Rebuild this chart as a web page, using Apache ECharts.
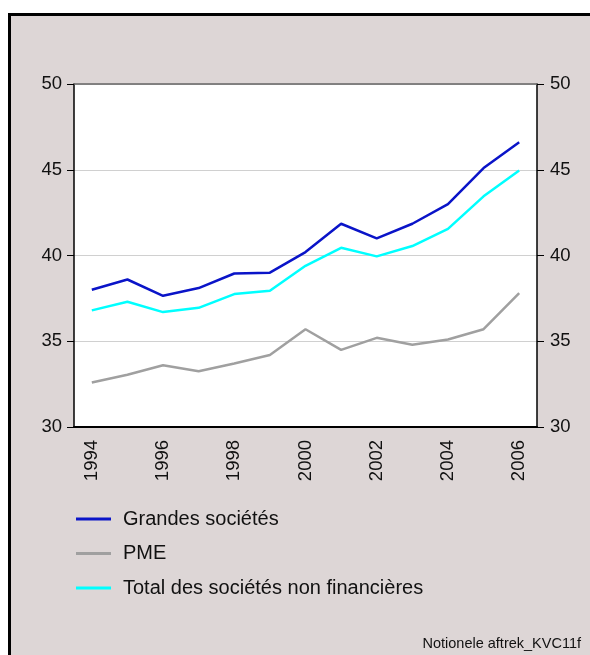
<!DOCTYPE html>
<html><head><meta charset="utf-8">
<script src="https://cdn.jsdelivr.net/npm/echarts@6/dist/echarts.min.js"></script>
<style>html,body{margin:0;padding:0;background:#fff}#c{width:590px;height:655px}</style>
</head><body><div id="c"></div>
<script>
const years = ['1994','1995','1996','1997','1998','1999','2000','2001','2002','2003','2004','2005','2006'];
const grandes = [38.0, 38.6, 37.65, 38.1, 38.95, 39.0, 40.2, 41.85, 41.0, 41.85, 43.0, 45.1, 46.6];
const pme = [32.6, 33.05, 33.6, 33.25, 33.7, 34.2, 35.7, 34.5, 35.2, 34.8, 35.1, 35.7, 37.8];
const total = [36.8, 37.3, 36.7, 36.95, 37.75, 37.95, 39.4, 40.45, 39.95, 40.55, 41.55, 43.45, 44.95];
const yTicks = {min: 30, max: 50, interval: 5};
const names = ['Grandes sociétés', 'PME', 'Total des sociétés non financières'];
const colors = ['#0a14c8', '#a0a0a0', '#00ffff'];
const font = 'Liberation Sans, Arial, sans-serif';

const chart = echarts.init(document.getElementById('c'), null, {renderer: 'canvas'});
chart.setOption({
  backgroundColor: '#ffffff',
  animation: false,
  textStyle: {fontFamily: font},
  graphic: [
    {type: 'rect', z: -10, shape: {x: 9.5, y: 14.5, width: 600, height: 660},
     style: {fill: '#ddd6d6', stroke: '#000', lineWidth: 3}},
    {type: 'text', right: 9, bottom: 4,
     style: {text: 'Notionele aftrek_KVC11f', font: '14.5px ' + font, fill: '#111'}}
  ],
  grid: {left: 74, right: 53, top: 84, bottom: 228, backgroundColor: '#fff', show: true, borderWidth: 0},
  legend: {
    orient: 'vertical', left: 76, top: 509, itemGap: 14.5, padding: 0,
    itemWidth: 35, itemHeight: 3, icon: 'rect',
    textStyle: {fontSize: 20, color: '#111', fontFamily: font, padding: [0, 0, 0, 7]},
    data: names
  },
  xAxis: [{
    type: 'category', data: years, boundaryGap: true,
    axisLine: {lineStyle: {color: '#000', width: 2}},
    axisTick: {inside: true, length: 6, interval: 0, lineStyle: {color: '#000', width: 1}},
    axisLabel: {interval: 1, rotate: 90, fontSize: 18.5, color: '#111', margin: 13, fontFamily: font},
    splitLine: {show: false}
  }, {
    type: 'category', data: years, position: 'top',
    axisLine: {lineStyle: {color: '#666', width: 1.5}},
    axisTick: {show: false}, axisLabel: {show: false}
  }],
  yAxis: [{
    type: 'value', position: 'left', min: yTicks.min, max: yTicks.max, interval: yTicks.interval,
    axisLine: {show: true, lineStyle: {color: '#000', width: 1.5}},
    axisTick: {show: true, length: 7, lineStyle: {color: '#000'}},
    axisLabel: {fontSize: 18.5, color: '#111', margin: 12, fontFamily: font},
    splitLine: {show: true, lineStyle: {color: '#d0d0d0', width: 1}}
  }, {
    type: 'value', position: 'right', min: yTicks.min, max: yTicks.max, interval: yTicks.interval,
    axisLine: {show: true, lineStyle: {color: '#000', width: 1.5}},
    axisTick: {show: true, length: 7, lineStyle: {color: '#000'}},
    axisLabel: {fontSize: 18.5, color: '#111', margin: 13, fontFamily: font},
    splitLine: {show: false}
  }],
  series: [
    {name: names[0], type: 'line', data: grandes, symbol: 'none', lineStyle: {width: 2.5, color: colors[0]}, itemStyle: {color: colors[0]}},
    {name: names[1], type: 'line', data: pme, symbol: 'none', lineStyle: {width: 2.5, color: colors[1]}, itemStyle: {color: colors[1]}},
    {name: names[2], type: 'line', data: total, symbol: 'none', lineStyle: {width: 2.5, color: colors[2]}, itemStyle: {color: colors[2]}}
  ]
});
</script></body></html>
